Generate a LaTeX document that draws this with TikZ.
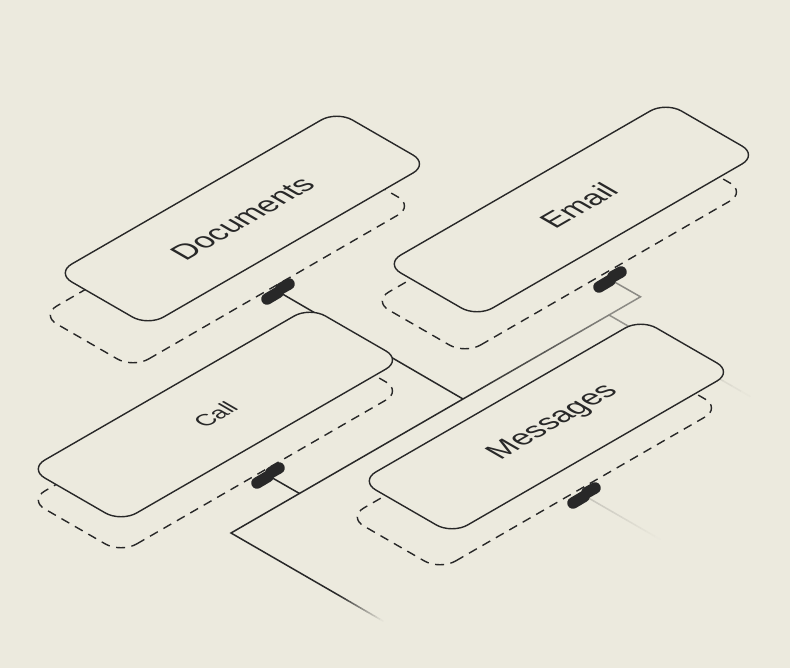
\documentclass[tikz,border=0pt]{standalone}
\usepackage{fontspec}
\setmainfont{Liberation Sans}
\usetikzlibrary{calc}

\definecolor{paper}{RGB}{236,234,222}
\definecolor{ink}{RGB}{40,40,40}
\definecolor{wiregray}{RGB}{140,139,133}
\definecolor{wirepale}{RGB}{196,194,185}

% outline of one card, drawn in the plane of the cards
\newcommand{\cardoutline}{(18,0) -- (306,0) .. controls (316,0) and (324,-8) .. (324,-18) -- (324,-88) .. controls (324,-98) and (316,-106) .. (306,-106) -- (18,-106) .. controls (8,-106) and (0,-98) .. (0,-88) -- (0,-18) .. controls (0,-8) and (8,0) .. (18,0) -- cycle}

\begin{document}
\begin{tikzpicture}[
  x=1pt, y=-1pt,
  iso/.style={cm={0.866,0.5,-0.866,0.5,(0,0)}},
  card/.style={draw=ink, line width=1.4pt, fill=paper},
  ghost/.style={draw=ink, line width=1.4pt, dash pattern=on 9pt off 6.5pt},
  cardtext/.style={text=ink, transform shape, font=\fontsize{30}{34}\selectfont},
  tabblob/.style={draw=ink, line width=11.5pt, line cap=round},
  wire/.style={draw=ink, line width=1.5pt},
  greywire/.style={draw=wiregray, line width=1.5pt}
]

\fill[paper] (0,0) rectangle (790,668);
\useasboundingbox (0,0) rectangle (790,668);

% Tabs under the cards
\coordinate (doc tab) at (279,292);
\coordinate (email tab) at (611,280);
\coordinate (call tab) at (269,476);
\coordinate (msg tab) at (585,496);

% Bus points
\coordinate (bus corner) at (231,533);
\coordinate (call join) at (299.5,493.5);
\coordinate (doc join) at (463,399);
\coordinate (msg join) at (609,315);
\coordinate (email join) at (640.5,296.8);
\coordinate (tail mid) at (340,596);
\coordinate (tail end) at (383,621);
\coordinate (branch end) at (750,396.4);
\coordinate (msg end) at (660,539.3);

% Connectors
\draw[wire] (call tab) -- (call join);
\draw[wire] (doc tab) -- (doc join);
\draw[wire] (tail mid) -- (bus corner) -- (doc join);
\draw[greywire] (msg join) -- (email join) -- (email tab);

\foreach \k in {1,...,16}{
  \pgfmathsetmacro\s{(\k-1)/16}
  \pgfmathsetmacro\e{\k/16}
  \pgfmathtruncatemacro\p{100-6*\k}
  \draw[wire, line cap=round, draw=ink!\p!paper] ($(tail mid)!\s!(tail end)$) -- ($(tail mid)!\e!(tail end)$);
  \pgfmathtruncatemacro\q{100-6*(\k-1)}
  \draw[wire, line cap=round, draw=ink!\q!wiregray] ($(doc join)!\s!(msg join)$) -- ($(doc join)!\e!(msg join)$);
  \draw[wire, line cap=round, draw=wiregray!\p!paper] ($(msg join)!\s!(branch end)$) -- ($(msg join)!\e!(branch end)$);
  \draw[wire, line cap=round, draw=wirepale!\p!paper] ($(msg tab)!\s!(msg end)$) -- ($(msg tab)!\e!(msg end)$);
}

% Documents
\begin{scope}[shift={(133,368)}, iso] \draw[ghost] \cardoutline; \end{scope}
\begin{scope}[shift={(148,326)}, iso]
  \draw[card] \cardoutline;
  \node[cardtext] (documents) at (162,-53) {Documents};
\end{scope}
\draw[tabblob] ([shift={(-12,7)}]doc tab) -- ([shift={(-1,0.5)}]doc tab) ([shift={(2,-3.5)}]doc tab) -- ([shift={(10,-8)}]doc tab);

% Email
\begin{scope}[shift={(465,354)}, iso] \draw[ghost] \cardoutline; \end{scope}
\begin{scope}[shift={(477,317)}, iso]
  \draw[card] \cardoutline;
  \node[cardtext] (email) at (170,-53) {Email};
\end{scope}
\draw[tabblob] ([shift={(-12,7)}]email tab) -- ([shift={(-1,0.5)}]email tab) ([shift={(2,-3.5)}]email tab) -- ([shift={(10,-8)}]email tab);

% Call
\begin{scope}[shift={(121,553)}, iso] \draw[ghost] \cardoutline; \end{scope}
\begin{scope}[shift={(121,522)}, iso]
  \draw[card] \cardoutline;
  \node[cardtext, font=\fontsize{23}{27}\selectfont] (call) at (162,-53) {Call};
\end{scope}
\draw[tabblob] ([shift={(-12,7)}]call tab) -- ([shift={(-1,0.5)}]call tab) ([shift={(2,-3.5)}]call tab) -- ([shift={(10,-8)}]call tab);

% Messages
\begin{scope}[shift={(440,570)}, iso] \draw[ghost] \cardoutline; \end{scope}
\begin{scope}[shift={(452,534)}, iso]
  \draw[card] \cardoutline;
  \node[cardtext] (messages) at (170,-53) {Messages};
\end{scope}
\draw[tabblob] ([shift={(-12,7)}]msg tab) -- ([shift={(-1,0.5)}]msg tab) ([shift={(2,-3.5)}]msg tab) -- ([shift={(10,-8)}]msg tab);

\end{tikzpicture}
\end{document}
